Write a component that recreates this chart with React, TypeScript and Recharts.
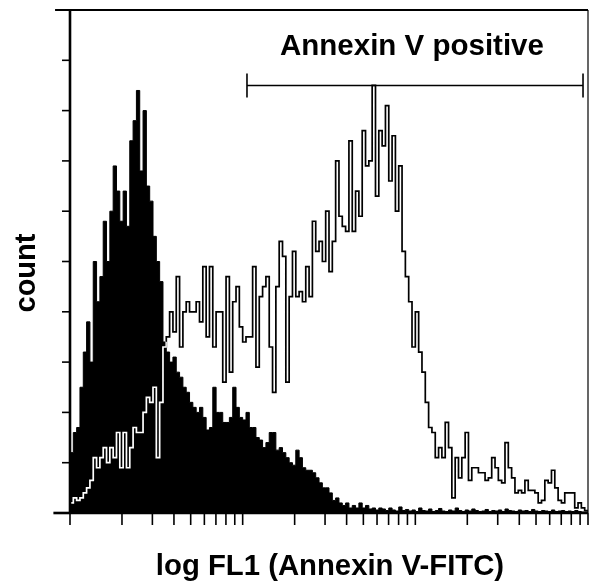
import React from 'react';
import { ComposedChart, Area, Line, XAxis, YAxis, ReferenceLine, CartesianGrid } from 'recharts';

// 156 channels over three log decades (10^0 .. 10^3), 52 channels per decade
const CHANNELS_PER_DECADE = 52;
const N_CHANNELS = 156;

// filled histogram (control)
const CONTROL = [
  12, 16, 17, 25, 32, 38, 30, 50, 42, 47,
  58, 50, 60, 69, 64, 58, 64, 57, 74, 78,
  84, 68, 80, 65, 62, 55, 50, 46, 34, 32,
  30, 31, 28, 27, 25, 24, 22, 21, 20, 21,
  19, 16.5, 17, 25, 20, 20, 18, 18, 19, 25,
  21, 19, 18.5, 20, 17, 17, 15, 14.5, 13, 14,
  16, 16, 12.5, 13, 12, 11, 10, 9.5, 12.5, 11,
  9, 8.5, 8.5, 8, 7, 6, 5, 5, 4, 2.5,
  3, 2, 1.5, 2, 1, 1.5, 1, 2, 1, 1.5,
  0.8, 1, 0.6, 1, 0.8, 0.5, 1, 0.6, 0.4, 1.2,
  0.5, 0.7, 0.4, 0.6, 0.3, 1, 0.5, 0.4, 0.8, 0.3,
  0.5, 0.9, 0.4, 0.3, 0.6, 0.4, 1, 0.5, 0.3, 0.6,
  0.4, 0.8, 0.5, 0.3, 0.4, 0.7, 0.3, 0.5, 0.4, 0.6,
  0.3, 0.8, 0.5, 0.4, 0.3, 0.6, 0.4, 0.5, 0.3, 0.7,
  0.4, 0.3, 0.5, 0.4, 0.3, 0.6, 0.3, 0.4, 0.5, 0.3,
  0.4, 0.3, 0.5, 0.3, 0.2, 0.3,
];

// open histogram (Annexin V-FITC stained)
const ANNEXIN = [
  2, 3, 2.5, 3, 4, 5, 6.5, 11, 9, 11,
  13, 10, 13, 11, 16, 9, 16, 9, 13, 17,
  16, 16, 20, 23, 22, 25, 11, 22, 33, 35,
  40, 36, 47, 33, 40, 42, 40, 40, 42, 38,
  49, 35, 49, 33, 40, 40, 26, 47, 28, 42,
  45, 37, 34, 35, 35, 49, 29, 43, 45, 47,
  33, 24, 45, 54, 51, 26, 43, 52, 43, 44,
  42, 49, 43, 58, 52, 54, 50, 60, 48, 54,
  70, 59, 57, 56, 74, 56, 64, 59, 76, 69,
  70, 85, 63, 76, 73, 81, 66, 75, 60, 69,
  52, 47, 42, 33, 40, 32, 28, 22, 17, 16,
  11, 13, 11, 18, 13, 3, 11, 7, 11, 16,
  6.5, 9, 9, 8, 8, 6.5, 7, 11, 9, 6.5,
  6, 14, 9, 7, 4, 4.5, 4, 6.5, 4.5, 4.5,
  4, 2, 2.5, 6.5, 6, 8.5, 5, 2.5, 2, 4,
  4, 4, 1, 2, 1, 0.5,
];

// log axis tick values (1..9, 10..90, 100..1000)
const X_TICK_VALUES = [
  1, 2, 3, 4, 5, 6, 7, 8, 9,
  10, 20, 30, 40, 50, 60, 70, 80, 90,
  100, 200, 300, 400, 500, 600, 700, 800, 900, 1000,
];
const Y_TICKS = [0, 10, 20, 30, 40, 50, 60, 70, 80, 90, 100];

// "Annexin V positive" marker, in channels
const GATE = [53.3, 154.5];
const GATE_Y = 85;

const xTicks = X_TICK_VALUES.map((v) => Math.log10(v) * CHANNELS_PER_DECADE);

const data = CONTROL.map((c, i) => ({ ch: i, ctrl: c, annex: ANNEXIN[i] }));
data.push({ ch: N_CHANNELS, ctrl: CONTROL[N_CHANNELS - 1], annex: ANNEXIN[N_CHANNELS - 1] });

const font = '"Liberation Sans", Arial, Helvetica, sans-serif';

// no tick labels, only the tick marks
const NoLabel = () => <g />;

export default function App() {
  return (
    <div style={{ position: 'absolute', left: 0, top: 0, width: 592, height: 582, background: '#fff' }}>
      <style>{'.xor-line path{mix-blend-mode:difference}'}</style>
      <ComposedChart width={592} height={582} data={data} margin={{ top: 10, right: 4, left: 0, bottom: 0 }}>
        <CartesianGrid horizontal={false} vertical={false} fill="#fff" />
        <XAxis
          type="number"
          dataKey="ch"
          domain={[0, N_CHANNELS]}
          ticks={xTicks}
          interval={0}
          tick={NoLabel}
          tickSize={12}
          height={69}
          tickLine={{ stroke: '#000', strokeWidth: 1.6 }}
          axisLine={{ stroke: '#000', strokeWidth: 2.6 }}
        />
        <YAxis
          type="number"
          domain={[0, 100]}
          ticks={Y_TICKS}
          interval={0}
          tick={NoLabel}
          tickSize={8}
          width={70}
          tickLine={{ stroke: '#000', strokeWidth: 1.6 }}
          axisLine={{ stroke: '#000', strokeWidth: 2.6 }}
        />
        <Area
          type="stepAfter"
          dataKey="ctrl"
          fill="#000"
          fillOpacity={1}
          stroke="#000"
          strokeWidth={1}
          isAnimationActive={false}
        />
        <Line
          type="stepAfter"
          dataKey="annex"
          className="xor-line"
          stroke="#fff"
          strokeWidth={1.7}
          dot={false}
          activeDot={false}
          isAnimationActive={false}
        />
        {/* frame */}
        <ReferenceLine segment={[{ x: -4.5, y: 100 }, { x: N_CHANNELS, y: 100 }]} stroke="#000" strokeWidth={2} ifOverflow="visible" />
        <ReferenceLine segment={[{ x: N_CHANNELS, y: 0 }, { x: N_CHANNELS, y: 100 }]} stroke="#000" strokeWidth={1.2} ifOverflow="visible" />
        <ReferenceLine segment={[{ x: -5, y: 0 }, { x: 0, y: 0 }]} stroke="#000" strokeWidth={2.6} ifOverflow="visible" />
        {/* gate marker */}
        <ReferenceLine segment={[{ x: GATE[0], y: GATE_Y }, { x: GATE[1], y: GATE_Y }]} stroke="#000" strokeWidth={1.6} ifOverflow="visible" />
        <ReferenceLine segment={[{ x: GATE[0], y: GATE_Y - 2.4 }, { x: GATE[0], y: GATE_Y + 2.4 }]} stroke="#000" strokeWidth={1.6} ifOverflow="visible" />
        <ReferenceLine segment={[{ x: GATE[1], y: GATE_Y - 2.4 }, { x: GATE[1], y: GATE_Y + 2.4 }]} stroke="#000" strokeWidth={1.6} ifOverflow="visible" />
      </ComposedChart>
      <svg width={592} height={582} style={{ position: 'absolute', left: 0, top: 0, pointerEvents: 'none' }}>
        <text x={280} y={55} fontFamily={font} fontWeight="bold" fontSize={29.5} fill="#000">
          Annexin V positive
        </text>
        <text x={330} y={575} textAnchor="middle" fontFamily={font} fontWeight="bold" fontSize={29.3} fill="#000">
          log FL1 (Annexin V-FITC)
        </text>
        <text
          x={0}
          y={0}
          transform="translate(35,273) rotate(-90)"
          textAnchor="middle"
          fontFamily={font}
          fontWeight="bold"
          fontSize={29}
          fill="#000"
        >
          count
        </text>
      </svg>
    </div>
  );
}
